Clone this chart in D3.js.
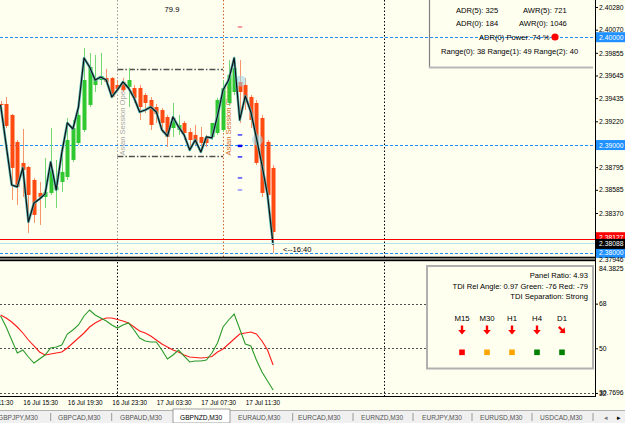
<!DOCTYPE html>
<html><head><meta charset="utf-8">
<script src="https://cdn.jsdelivr.net/npm/d3@7"></script>
<style>
body{margin:0;background:#fffff0;overflow:hidden}
svg{display:block;font-family:"Liberation Sans",Arial,sans-serif}
</style></head><body>
<svg id="c" width="625" height="423"></svg>
<script>
// ---------------- DATA ----------------
const firstBar = "2015-07-16T13:30:00";   // M30 bars
const barMinutes = 30;
const open  = [2.39381,2.39381,2.39279,2.39029,2.38834,2.38797,2.38676,2.38556,2.38519,2.38556,2.38584,2.38658,2.38704,2.38862,2.39019,2.39140,2.39372,2.39557,2.39603,2.39622,2.39622,2.39557,2.39585,2.39539,2.39529,2.39529,2.39464,2.39418,2.39353,2.39325,2.39260,2.39158,2.39140,2.39205,2.39121,2.39094,2.39075,2.39066,2.39075,2.39112,2.39140,2.39390,2.39492,2.39585,2.39557,2.39446,2.39390,2.39251,2.39029,2.38788];
const high  = [2.39409,2.39446,2.39288,2.39047,2.39149,2.38806,2.38695,2.38658,2.38880,2.39158,2.38862,2.38936,2.39251,2.39233,2.39353,2.39900,2.39854,2.39835,2.39854,2.39705,2.39631,2.39603,2.39622,2.39715,2.39557,2.39557,2.39483,2.39446,2.39381,2.39344,2.39279,2.39390,2.39279,2.39223,2.39158,2.39186,2.39168,2.39094,2.39168,2.39437,2.39603,2.39789,2.39817,2.39789,2.39622,2.39464,2.39418,2.39279,2.39047,2.38815];
const low   = [2.39353,2.39158,2.38491,2.38445,2.38519,2.38185,2.38278,2.38259,2.38417,2.38537,2.38417,2.38565,2.38676,2.38843,2.39001,2.39121,2.39353,2.39492,2.39557,2.39566,2.39437,2.39492,2.39492,2.39353,2.39390,2.39233,2.39297,2.39140,2.39205,2.39112,2.38982,2.39075,2.39094,2.39047,2.38954,2.39001,2.38936,2.38982,2.39047,2.39094,2.39121,2.39362,2.39464,2.39205,2.39325,2.39158,2.38815,2.38519,2.38519,2.38000];
const close = [2.39372,2.39177,2.38788,2.38612,2.38769,2.38537,2.38352,2.38519,2.38565,2.38769,2.38612,2.38751,2.39047,2.39158,2.39279,2.39603,2.39724,2.39613,2.39640,2.39585,2.39446,2.39520,2.39511,2.39603,2.39437,2.39353,2.39390,2.39186,2.39288,2.39205,2.39075,2.39251,2.39186,2.39112,2.39047,2.39019,2.39019,2.39019,2.39205,2.39418,2.39529,2.39650,2.39715,2.39492,2.39418,2.39233,2.38834,2.38556,2.38537,2.38194];
const priceLine = [2.39372,2.39001,2.38630,2.38612,2.38788,2.38287,2.38463,2.38500,2.38547,2.38843,2.38584,2.38927,2.39205,2.39149,2.39353,2.39807,2.39724,2.39603,2.39631,2.39603,2.39446,2.39511,2.39585,2.39529,2.39437,2.39307,2.39325,2.39353,2.39307,2.39140,2.39084,2.39260,2.39168,2.39094,2.38954,2.39047,2.38936,2.39075,2.39066,2.39270,2.39511,2.39603,2.39807,2.39233,2.39455,2.39307,2.39066,2.38815,2.38537,2.38074];
const tdiGreen = [63.02,58.58,53.34,48.10,49.31,46.49,44.07,45.68,47.30,50.12,50.52,51.33,55.76,57.37,59.39,63.02,65.44,63.42,62.21,61.00,59.39,58.18,59.39,60.20,57.37,54.15,52.94,52.54,52.54,49.31,45.68,47.30,49.31,46.89,44.48,44.88,44.88,45.28,48.10,52.13,58.58,61.41,63.82,57.78,51.73,50.93,45.28,40.44,36.82,33.19];
const tdiRed   = [63.42,62.21,60.60,58.58,56.17,53.34,50.93,48.51,47.30,47.70,48.10,48.51,50.12,52.13,54.15,56.17,58.58,60.20,61.41,62.21,62.21,61.61,61.00,60.20,58.58,56.97,56.17,54.96,53.34,51.73,50.52,49.31,48.51,47.30,46.49,46.29,46.09,46.29,46.69,48.51,49.72,51.73,53.75,55.76,56.17,56.57,55.76,52.94,49.31,43.27];

const priceTicks = [2.40280,2.40070,2.39855,2.39645,2.39435,2.39220,2.38795,2.38585,2.38370];
const roundLevels = [2.40000,2.39000,2.38000];
const askPrice = 2.38127, bidPrice = 2.38088, minPrice = 2.37946;
const subTicks = [68,50,32];
const subMax = 84.3825, subMin = 30.7696;
const timeTicks = ["2015-07-16T11:30","2015-07-16T15:30","2015-07-16T19:30","2015-07-16T23:30","2015-07-17T03:30","2015-07-17T07:30","2015-07-17T11:30"];
const sessionOpen = "2015-07-17T00:00", sessionClose = "2015-07-17T09:30", nextDay = "2015-07-18T00:00";
const sessionHigh = 2.39703, sessionLow = 2.38902;
const dashMarks = [{p:2.40095,c:"#f08080",w:1.5},{p:2.39094,c:"#4040ff",w:1.5},{p:2.38992,c:"#0000ee",w:2.5},{p:2.38890,c:"#3030ff",w:1.5},{p:2.38695,c:"#5050ff",w:1.5},{p:2.38584,c:"#9090ff",w:1.5}];
const dashTime = "2015-07-17T11:00";
const circles = [{t:"2015-07-17T11:00",p:2.39594},{t:"2015-07-17T12:30",p:2.39047}];
const infoTop = [
  {t:"ADR(5): 325",x:456,y:10},{t:"AWR(5): 721",x:523,y:10},
  {t:"ADR(0): 184",x:456,y:23},{t:"AWR(0): 1046",x:519,y:23},
  {t:"ADR(0) Power: 74 %",x:479,y:37},
  {t:"Range(0): 38  Range(1): 49  Range(2): 40",x:441,y:51}];
const panelLines = ["Panel Ratio: 4.93","TDI Rel Angle: 0.97 Green: -76 Red: -79","TDI Separation: Strong"];
const timeframes = ["M15","M30","H1","H4","D1"];
const arrowAngles = [0,0,0,0,-45];
const tfColors = ["#ff0000","#ffa500","#ffa500","#008000","#008000"];
const tabs = ["GBPJPY,M30","GBPCAD,M30","GBPAUD,M30","GBPNZD,M30","EURAUD,M30","EURCAD,M30","EURNZD,M30","EURJPY,M30","EURUSD,M30","USDCAD,M30"];
const tabX = [-2,58,120,180,238,298,361,422,480,540];
const tabSeps = [50.7,111.7,292.7,353,413,472,532,593];
const activeTab = 3;

// ---------------- SETUP ----------------
const BG = "#fffff0";
const svg = d3.select("#c");
const axisX = 595, mainBottom = 257, subTop = 262, subBottom = 396;
const parse = d3.isoParse;
const t0 = parse(firstBar);
const times = open.map((_,i)=>d3.timeMinute.offset(t0, barMinutes*i));
const x = d3.scaleTime().domain([times[0], times[times.length-1]]).range([0.6, 273.1]);
const y = d3.scaleLinear().domain([2.37962, 2.40345]).range([mainBottom, 0]);
const ys = d3.scaleLinear().domain([subMin, subMax]).range([subBottom, 263]);
const py = p => Math.round(y(p)) + 0.5;

svg.append("rect").attr("width",625).attr("height",423).attr("fill",BG);

const gridG = svg.append("g").attr("class","grid");
// round-number levels (blue dashed)
roundLevels.forEach(p=>{
  gridG.append("line").attr("class","lvl")
    .attr("x1",0).attr("x2",axisX).attr("y1",py(p)).attr("y2",py(p))
    .style("stroke","#1e90ff").style("stroke-width","1px").style("stroke-dasharray","3,2");
});
// vertical lines main pane
const vl = [{t:sessionOpen,c:"#9a9a9a"},{t:sessionClose,c:"#c8682c"},{t:nextDay,c:"#000000"}];
vl.forEach(d=>{
  const xx = Math.round(x(parse(d.t)))+0.5;
  gridG.append("line").attr("class","vline")
    .attr("x1",xx).attr("x2",xx).attr("y1",0).attr("y2",mainBottom)
    .style("stroke",d.c).style("stroke-dasharray","1.5,2");
});

// Asian session box
const bx1 = x(parse(sessionOpen)), bx2 = x(parse(sessionClose));
[sessionHigh, sessionLow].forEach(p=>{
  gridG.append("line").attr("x1",bx1).attr("x2",bx2).attr("y1",py(p)).attr("y2",py(p))
    .style("stroke","#505050").style("stroke-width","1.3px").style("stroke-dasharray","6,2,1.5,2");
});
gridG.append("text").attr("transform",`translate(${bx1+8},${y(sessionLow)}) rotate(-90)`)
  .attr("font-size",7.6).attr("fill","#a8a8a8").text("Asian Session Open");
gridG.append("text").attr("transform",`translate(${bx2+8},${y(sessionLow)}) rotate(-90)`)
  .attr("font-size",7.6).attr("fill","#d2691e").text("Asian Session Close");

svg.append("text").attr("x",172).attr("y",12).attr("text-anchor","middle").attr("font-size",7.6).attr("fill","#000").text("79.9");

// candles
const bars = open.map((o,i)=>({t:times[i],o,h:high[i],l:low[i],c:close[i]}));
const cg = svg.append("g").attr("class","candles");
cg.selectAll("line.wick").data(bars).join("line").attr("class","wick")
  .attr("x1",d=>Math.round(x(d.t))+0.5).attr("x2",d=>Math.round(x(d.t))+0.5)
  .attr("y1",d=>y(d.h)).attr("y2",d=>y(d.l))
  .style("stroke",d=>d.c>=d.o?"#74d874":"#f7956a");
cg.selectAll("rect.body").data(bars).join("rect").attr("class","body")
  .attr("x",d=>Math.round(x(d.t))-1.5).attr("width",4)
  .attr("y",d=>y(Math.max(d.o,d.c))).attr("height",d=>Math.max(1,Math.abs(y(d.o)-y(d.c))))
  .attr("fill",d=>d.c>=d.o?"#30c830":"#ff4a12");

// marker circles
svg.selectAll("circle.mk").data(circles).join("circle").attr("class","mk")
  .attr("cx",d=>x(parse(d.t))+1).attr("cy",d=>y(d.p)).attr("r",5.5)
  .attr("fill","#9fd6ea").attr("opacity",0.55);

// price line
const lineGen = d3.line().x((d,i)=>x(times[i])).y(d=>y(d));
svg.append("path").attr("d",lineGen(priceLine)).attr("fill","none").style("stroke","#5fb8b8").style("stroke-width","2.6px").attr("stroke-linejoin","round");
svg.append("path").attr("d",lineGen(priceLine)).attr("fill","none").style("stroke","#111").style("stroke-width","1.2px").attr("stroke-linejoin","round");

// dashes
const dx = x(parse(dashTime));
dashMarks.forEach(d=>{
  svg.append("line").attr("class","dash").attr("x1",dx-2).attr("x2",dx+2.5).attr("y1",y(d.p)).attr("y2",y(d.p))
    .style("stroke",d.c).style("stroke-width",d.w+"px");
});

// bid / ask lines
svg.append("line").attr("class","ask").attr("x1",0).attr("x2",axisX).attr("y1",py(askPrice)).attr("y2",py(askPrice)).style("stroke","#ff0000").style("stroke-width","1px");
svg.append("line").attr("class","bid").attr("x1",0).attr("x2",axisX).attr("y1",py(bidPrice)).attr("y2",py(bidPrice)).style("stroke","#b4e4ea").style("stroke-width","1px");

svg.append("text").attr("x",283).attr("y",251.5).attr("font-size",7.6).attr("fill","#000").text("<--16:40");

// top info panel
svg.append("line").attr("x1",429.5).attr("x2",429.5).attr("y1",0).attr("y2",68).style("stroke","#808080").style("stroke-width","1.2px");
svg.append("line").attr("x1",429).attr("x2",593).attr("y1",67.5).attr("y2",67.5).style("stroke","#b8b8b8").style("stroke-width","2px");
svg.selectAll("text.info").data(infoTop).join("text").attr("class","info")
  .attr("x",d=>d.x).attr("y",d=>d.y+2.7).attr("font-size",7.6).attr("fill","#000").text(d=>d.t);
svg.append("circle").attr("cx",555).attr("cy",37).attr("r",3.6).attr("fill","#ff0000");

// separators between panes
svg.append("rect").attr("x",0).attr("y",256.7).attr("width",axisX).attr("height",1.8).attr("fill","#000");
svg.append("rect").attr("x",0).attr("y",259.4).attr("width",axisX).attr("height",1.8).attr("fill","#000");

// ---------------- SUB WINDOW ----------------
const sub = svg.append("g").attr("class","sub");
subTicks.forEach(v=>{
  const yy = Math.round(ys(v))+0.5;
  sub.append("line").attr("x1",0).attr("x2",axisX).attr("y1",yy).attr("y2",yy)
    .style("stroke","#505050").style("stroke-dasharray","2,2");
});
[sessionOpen,nextDay].forEach(t=>{
  const xx = Math.round(x(parse(t)))+0.5;
  sub.append("line").attr("x1",xx).attr("x2",xx).attr("y1",subTop).attr("y2",subBottom)
    .style("stroke","#000").style("stroke-dasharray","1.5,2");
});
const sline = d3.line().x((d,i)=>x(times[i])).y(d=>ys(d));
sub.append("path").attr("d",sline(tdiRed)).attr("fill","none").style("stroke","#ff1a1a").style("stroke-width","1.1px");
sub.append("path").attr("d",sline(tdiGreen)).attr("fill","none").style("stroke","#2a9a2a").style("stroke-width","1.1px");

// bottom panel
sub.append("rect").attr("x",427).attr("y",266).attr("width",166).attr("height",102.5)
  .attr("fill",BG).style("stroke","#b0b0b0").style("stroke-width","2px");
sub.selectAll("text.pl").data(panelLines).join("text").attr("class","pl")
  .attr("x",588).attr("y",(d,i)=>278+i*10.5).attr("text-anchor","end").attr("font-size",7.6).attr("fill","#000").text(d=>d);
const tfX = d3.scalePoint().domain(timeframes).range([462,562]);
sub.selectAll("text.tf").data(timeframes).join("text").attr("class","tf")
  .attr("x",d=>tfX(d)).attr("y",320.5).attr("text-anchor","middle").attr("font-size",7.8).attr("fill","#000").text(d=>d);
sub.selectAll("path.ar").data(timeframes).join("path").attr("class","ar")
  .attr("transform",(d,i)=>`translate(${tfX(d)},330) rotate(${arrowAngles[i]})`)
  .attr("d","M-1.2,-4.5 L1.2,-4.5 L1.2,0 L3.8,0 L0,4.5 L-3.8,0 L-1.2,0 Z")
  .attr("fill","#ff0000");
sub.selectAll("rect.sq").data(timeframes).join("rect").attr("class","sq")
  .attr("x",d=>tfX(d)-2.8).attr("y",349.5).attr("width",5.6).attr("height",5.6)
  .attr("fill",(d,i)=>tfColors[i]);

// frame lines
svg.append("line").attr("x1",0).attr("x2",axisX).attr("y1",396.5).attr("y2",396.5).style("stroke","#000");
svg.append("line").attr("x1",axisX+0.5).attr("x2",axisX+0.5).attr("y1",0).attr("y2",397).style("stroke","#000");

// ---------------- AXES ----------------
const pa = svg.append("g").attr("transform",`translate(${axisX},0)`)
  .call(d3.axisRight(y).tickValues(priceTicks).tickSize(3).tickPadding(1).tickFormat(d3.format(".5f")));
pa.select(".domain").remove();
pa.selectAll("text").attr("font-size",6.8).attr("font-family","Liberation Sans, Arial").attr("fill","#000");
pa.selectAll(".tick line").style("stroke","#000");

function tag(p, bg, fg, dy){
  const g = svg.append("g").attr("transform",`translate(${axisX+1},${y(p)+(dy||0)})`);
  g.append("rect").attr("x",0).attr("y",-5).attr("width",29).attr("height",10).attr("fill",bg);
  g.append("text").attr("x",3).attr("y",2.5).attr("font-size",6.8).attr("fill",fg).text(d3.format(".5f")(p));
}
roundLevels.forEach(p=>tag(p,"#1e90ff","#fff"));
tag(askPrice,"#ff0000","#fff",-2);
tag(bidPrice,"#000","#fff",0.5);
svg.append("text").attr("x",axisX+4).attr("y",y(minPrice)+3.5).attr("font-size",6.8).attr("fill","#000").text(d3.format(".5f")(minPrice));

const sa = svg.append("g").attr("transform",`translate(${axisX},0)`)
  .call(d3.axisRight(ys).tickValues(subTicks).tickSize(3).tickPadding(1).tickFormat(d3.format("d")));
sa.select(".domain").remove();
sa.selectAll("text").attr("font-size",6.8).attr("font-family","Liberation Sans, Arial").attr("fill","#000");
sa.selectAll(".tick line").style("stroke","#000");
svg.append("text").attr("x",axisX+4).attr("y",ys(subMax)+7.5).attr("font-size",6.8).attr("fill","#000").text(subMax.toFixed(4));
svg.append("text").attr("x",axisX+4).attr("y",ys(32)+2.5).attr("font-size",6.8).attr("fill","#000").text(subMin.toFixed(4));

const ta = svg.append("g").attr("transform",`translate(0,${subBottom})`)
  .call(d3.axisBottom(x).tickValues(timeTicks.map(parse)).tickSize(0).tickPadding(3).tickFormat(d3.timeFormat("%d %b %H:%M")));
ta.select(".domain").remove();
ta.selectAll("text").attr("text-anchor","start").attr("font-size",6.4).attr("font-family","Liberation Sans, Arial").attr("fill","#000").attr("dy","0.9em");

// ---------------- TABS ----------------
svg.append("rect").attr("x",0).attr("y",410).attr("width",625).attr("height",13).attr("fill","#f0f0f0");
svg.append("line").attr("x1",0).attr("x2",625).attr("y1",410.5).attr("y2",410.5).style("stroke","#b0b0b0");
svg.append("rect").attr("x",173).attr("y",409).attr("width",57).attr("height",14).attr("fill","#fff").style("stroke","#888").style("stroke-width","0.8px");
tabSeps.forEach(s=>{
  svg.append("line").attr("x1",s).attr("x2",s).attr("y1",413).attr("y2",421).style("stroke","#9a9a9a");
});
svg.selectAll("text.tab").data(tabs).join("text").attr("class","tab")
  .attr("x",(d,i)=>tabX[i]).attr("y",419.5).attr("font-size",6.6)
  .attr("fill",(d,i)=>i===activeTab?"#000":"#555").text(d=>d);
svg.append("text").attr("x",604).attr("y",420).attr("font-size",7).attr("fill","#777").text("◂");
svg.append("text").attr("x",617).attr("y",420).attr("font-size",7).attr("fill","#000").text("▸");
</script>
</body></html>
